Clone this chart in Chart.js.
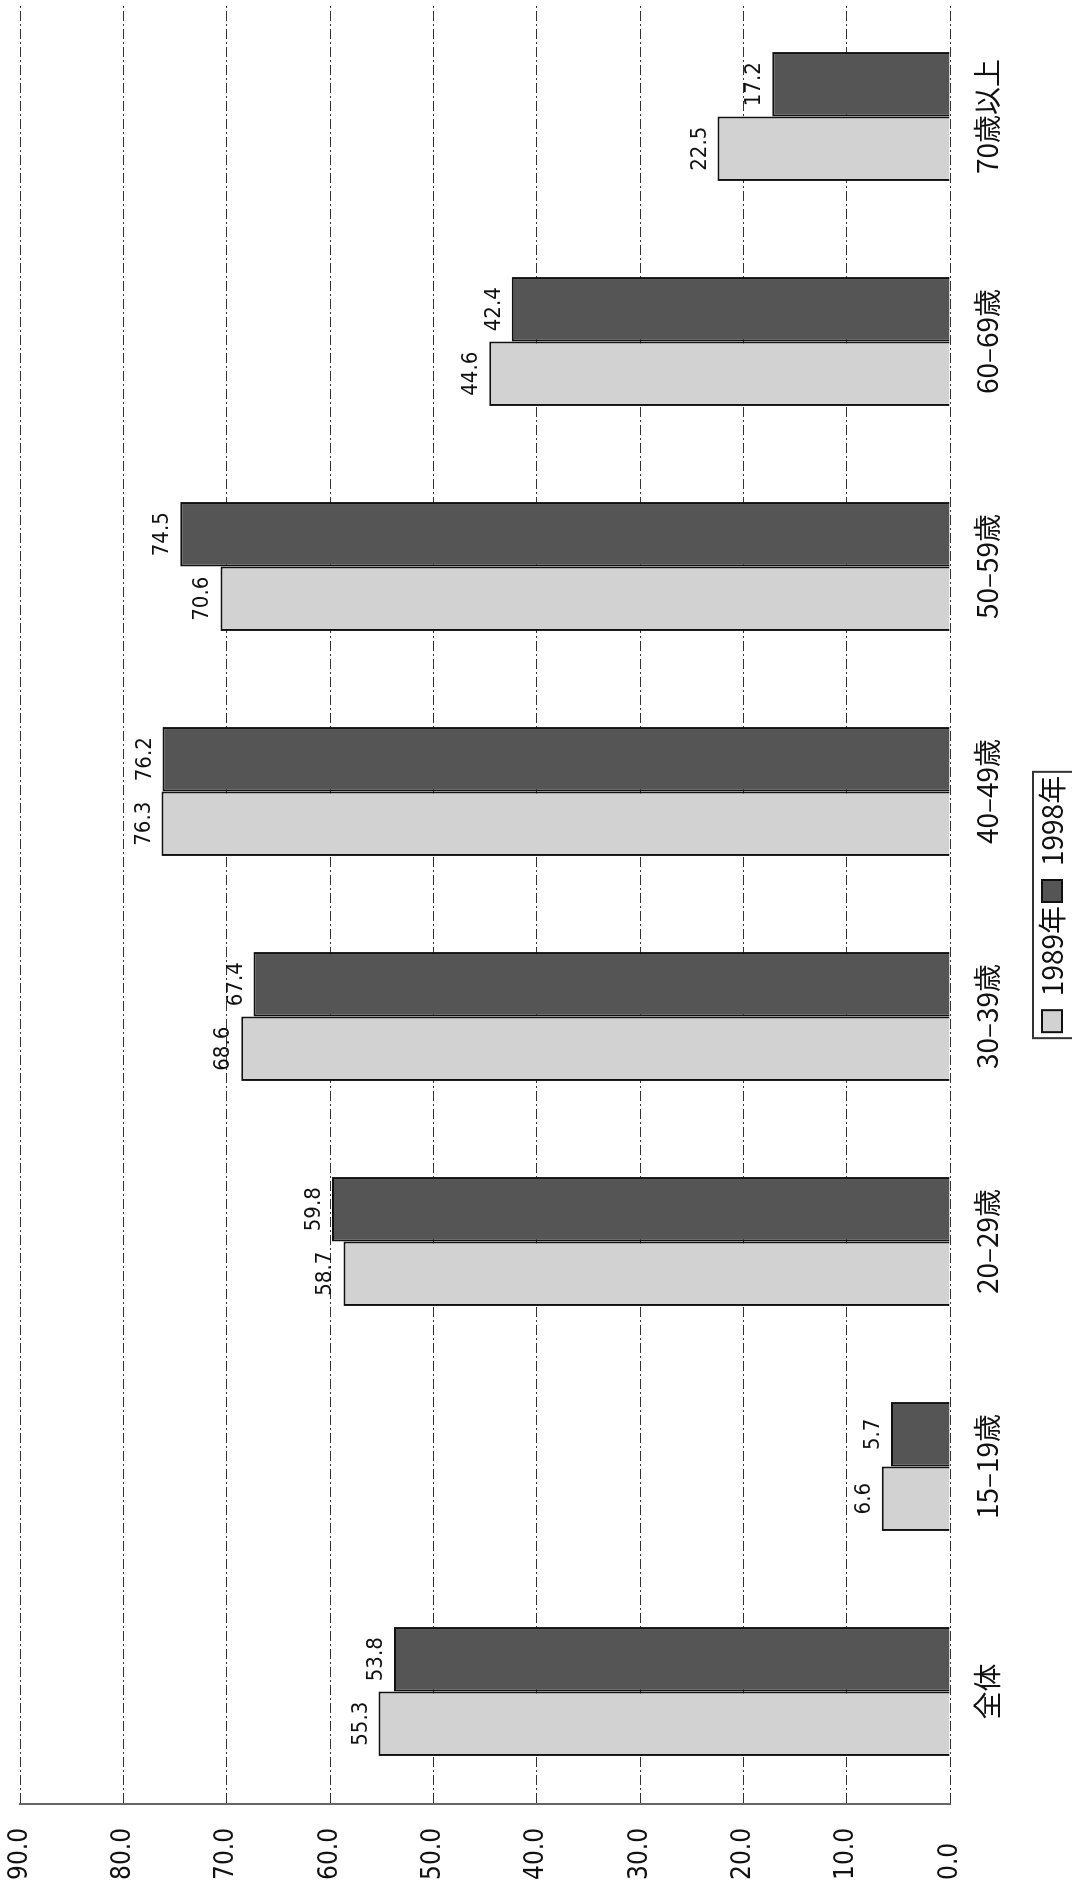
<!DOCTYPE html>
<html lang="ja">
<head>
<meta charset="UTF-8">
<title>年齢階級別 1989年・1998年</title>
<script src="https://cdn.jsdelivr.net/npm/chart.js"></script>
<style>
    html, body { margin: 0; padding: 0; background: #fff; }
    body { width: 1072px; height: 1891px; overflow: hidden; position: relative; }
    /* o grafico original esta deitado: desenho normal e giro -90 graus */
    .giro {
        position: absolute; left: 0; top: 0;
        width: 1891px; height: 1072px;
        transform-origin: 0 0;
        transform: translate(0, 1891px) rotate(-90deg);
    }
</style>
</head>
<body>
<div class="giro"><canvas id="grafico" width="1891" height="1072"></canvas></div>

<script>
    const categorias = ['全体', '15–19歳', '20–29歳', '30–39歳', '40–49歳', '50–59歳', '60–69歳', '70歳以上'];
    const series = ['1989年', '1998年'];
    const valores1989 = [55.3, 6.6, 58.7, 68.6, 76.3, 70.6, 44.6, 22.5];
    const valores1998 = [53.8, 5.7, 59.8, 67.4, 76.2, 74.5, 42.4, 17.2];
    const rotulosEixo = ['0.0', '10.0', '20.0', '30.0', '40.0', '50.0', '60.0', '70.0', '80.0', '90.0'];

    const fonteNum = "'DejaVu Sans Condensed', 'Liberation Sans Narrow', 'Liberation Sans', sans-serif";
    const fonteJp = "'Noto Sans CJK JP', 'Noto Sans', sans-serif";

    // valores em cima das barras
    const rotuloBarras = {
        id: 'rotuloBarras',
        afterDatasetsDraw(chart) {
            const ctx = chart.ctx;
            ctx.save();
            ctx.font = "22px " + fonteNum;
            ctx.fillStyle = '#111';
            ctx.textAlign = 'center';
            ctx.textBaseline = 'alphabetic';
            chart.data.datasets.forEach((ds, i) => {
                chart.getDatasetMeta(i).data.forEach((barra, j) => {
                    ctx.fillText(ds.data[j].toFixed(1), barra.x, barra.y - 12);
                });
            });
            ctx.restore();
        }
    };

    // moldura da legenda
    const molduraLegenda = {
        id: 'molduraLegenda',
        afterDraw(chart) {
            const caixas = chart.legend.legendHitBoxes;
            if (!caixas || !caixas.length) return;
            const ctx = chart.ctx;
            const esq = caixas[0].left - 6;
            const ult = caixas[caixas.length - 1];
            const dir = ult.left + ult.width + 4;
            const topo = caixas[0].top - 5;
            ctx.save();
            ctx.strokeStyle = '#333';
            ctx.lineWidth = 2;
            ctx.strokeRect(esq, topo, dir - esq, chart.height + 20 - topo);
            ctx.restore();
        }
    };

    const ctx = document.getElementById('grafico').getContext('2d');

    const grafico = new Chart(ctx, {
        type: 'bar',
        data: {
            labels: categorias,
            datasets: [{
                label: series[0],
                data: valores1989,
                backgroundColor: '#d2d2d2',
                borderColor: '#111',
                borderWidth: 2,
                borderSkipped: 'start',
                categoryPercentage: 0.573,
                barPercentage: 1.0
            }, {
                label: series[1],
                data: valores1998,
                backgroundColor: '#555555',
                borderColor: '#111',
                borderWidth: 2,
                borderSkipped: 'start',
                categoryPercentage: 0.573,
                barPercentage: 1.0
            }]
        },
        options: {
            responsive: false,
            animation: false,
            devicePixelRatio: 1,
            layout: {
                padding: { left: 11, top: 20, right: 4, bottom: -4 }
            },
            plugins: {
                legend: {
                    position: 'bottom',
                    fullSize: false,
                    labels: {
                        font: { family: fonteJp, size: 28 },
                        color: '#111',
                        boxWidth: 22,
                        boxHeight: 20,
                        padding: 4
                    }
                },
                tooltip: { enabled: false },
                title: { display: false }
            },
            scales: {
                x: {
                    grid: { display: false, drawTicks: false },
                    border: { display: false },
                    ticks: {
                        font: { family: fonteJp, size: 28 },
                        color: '#111',
                        padding: 21,
                        maxRotation: 0
                    },
                    afterFit(escala) { escala.height = 84; }
                },
                y: {
                    min: 0,
                    max: 90,
                    grid: {
                        color: '#333',
                        lineWidth: 1,
                        drawTicks: false
                    },
                    border: {
                        display: true,
                        color: '#666',
                        width: 2,
                        dash: [10, 3, 2, 3]
                    },
                    ticks: {
                        stepSize: 10,
                        crossAlign: 'far',
                        padding: 0,
                        font: { family: fonteNum, size: 26 },
                        color: '#111',
                        callback: (v, i) => rotulosEixo[i]
                    },
                    afterFit(escala) { escala.width = 76; }
                }
            }
        },
        plugins: [rotuloBarras, molduraLegenda]
    });
</script>
</body>
</html>
